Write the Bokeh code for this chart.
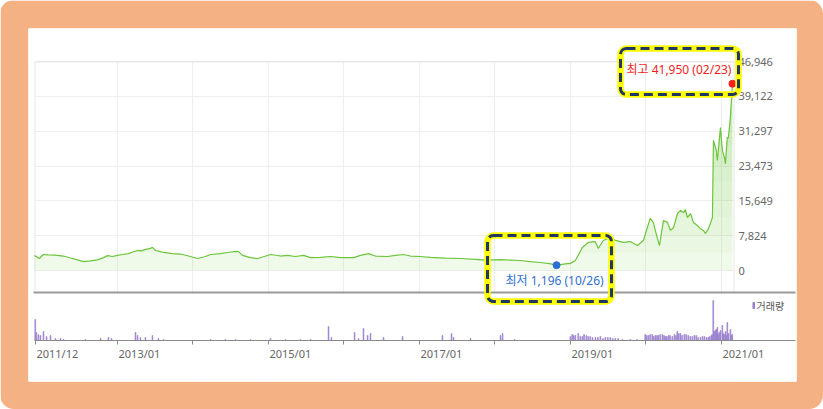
import pandas as pd
import numpy as np
from bokeh.plotting import figure
from bokeh.models import (Range1d, FixedTicker, NumeralTickFormatter, CustomJSTickFormatter,
                          BoxAnnotation, Legend, LegendItem, ColumnDataSource)
from bokeh.core.properties import value
from bokeh.embed import file_html
from bokeh.resources import INLINE

# ---------------- data ----------------
price_dates = [
    "2011-11-26", "2011-12-10", "2011-12-20", "2011-12-29", "2012-01-08", "2012-02-01", "2012-03-06",
    "2012-04-14", "2012-05-19", "2012-06-21", "2012-07-21", "2012-08-23", "2012-09-26", "2012-10-25",
    "2012-11-14", "2012-12-08", "2013-01-01", "2013-01-25", "2013-02-23", "2013-03-19", "2013-04-08",
    "2013-04-27", "2013-05-16", "2013-06-05", "2013-06-19", "2013-07-04", "2013-07-23", "2013-08-12",
    "2013-09-24", "2013-11-02", "2013-12-20", "2014-01-23", "2014-03-03", "2014-03-27", "2014-05-14",
    "2014-06-17", "2014-07-26", "2014-08-09", "2014-08-29", "2014-10-06", "2014-11-09", "2014-12-13",
    "2015-01-11", "2015-03-01", "2015-04-03", "2015-05-12", "2015-06-20", "2015-07-24", "2015-09-10",
    "2015-10-28", "2015-12-16", "2016-02-17", "2016-03-22", "2016-04-29", "2016-06-02", "2016-07-30",
    "2016-09-07", "2016-10-16", "2016-11-18", "2017-01-06", "2017-02-23", "2017-05-07", "2017-07-18",
    "2017-09-29", "2017-11-16", "2018-01-28", "2018-03-17", "2018-05-05", "2018-06-22", "2018-08-09",
    "2018-09-22", "2018-10-26", "2018-11-29", "2019-01-01", "2019-01-25", "2019-02-28", "2019-03-28",
    "2019-05-01", "2019-05-16", "2019-06-09", "2019-07-13", "2019-08-07", "2019-09-14", "2019-10-18",
    "2019-11-21", "2019-12-20", "2020-01-22", "2020-02-06", "2020-02-25", "2020-03-07", "2020-03-26",
    "2020-04-15", "2020-04-29", "2020-05-14", "2020-06-02", "2020-06-17", "2020-07-01", "2020-07-10",
    "2020-07-20", "2020-08-04", "2020-08-18", "2020-09-06", "2020-09-21", "2020-10-06", "2020-10-15",
    "2020-10-30", "2020-11-18", "2020-11-23", "2020-12-07", "2020-12-12", "2020-12-27", "2021-01-05",
    "2021-01-15", "2021-01-20", "2021-01-29", "2021-02-03", "2021-02-13", "2021-02-23",
]
price_values = [
    3370, 3000, 2700, 3150, 3600, 3500, 3450,
    3250, 2800, 2400, 2000, 2150, 2400, 2900,
    3350, 3150, 3400, 3600, 3800, 4200, 4500,
    4400, 4750, 4900, 5200, 4500, 4300, 4050,
    3800, 3700, 3150, 2700, 3150, 3600, 3800,
    4050, 4300, 4250, 3400, 2900, 2700, 3150,
    3600, 3250, 3400, 3150, 3400, 2900, 2950,
    3150, 2900, 2900, 3400, 3800, 3250, 3150,
    3400, 3600, 3250, 3150, 2950, 2800, 2700,
    2500, 2350, 2450, 2350, 2250, 2000, 1800,
    1550, 1196, 1450, 1600, 2250, 5150, 6300,
    6500, 4950, 6750, 7400, 6750, 6300, 6500,
    5600, 6750, 11700, 10800, 7400, 5600, 11200,
    10800, 9000, 9650, 12800, 13500, 13000, 13700,
    11900, 12800, 10800, 10100, 9400, 9000, 8300,
    9400, 11900, 29200, 27000, 24700, 32100, 27000,
    25400, 24000, 29900, 29700, 34400, 41950,
]

vol_dates = [
    "2011-11-30", "2011-12-05", "2011-12-15", "2011-12-25", "2012-01-09", "2012-01-24", "2012-02-12",
    "2012-03-07", "2012-03-31", "2012-04-15", "2012-07-30", "2012-10-11", "2012-11-18", "2012-12-03",
    "2013-03-29", "2013-04-08", "2013-04-22", "2013-05-16", "2013-06-19", "2013-07-18", "2013-08-12",
    "2014-03-27", "2014-06-07", "2014-07-26", "2014-10-06", "2015-01-11", "2015-03-25", "2015-06-05",
    "2015-07-24", "2015-10-19", "2015-11-02", "2016-02-22", "2016-03-12", "2016-04-05", "2016-04-25",
    "2016-05-09", "2016-07-11", "2016-10-11", "2017-04-22", "2017-06-05", "2017-06-15", "2017-09-05",
    "2018-01-28", "2018-02-07", "2018-04-06", "2019-01-01", "2019-01-10", "2019-01-25", "2019-02-08",
    "2019-02-28", "2019-03-19", "2019-04-07", "2019-05-02", "2019-05-26", "2019-06-19", "2019-07-13",
    "2019-08-06", "2019-10-18", "2019-12-29", "2020-01-13", "2020-02-01", "2020-02-16", "2020-03-01",
    "2020-03-21", "2020-04-04", "2020-04-19", "2020-05-08", "2020-06-01", "2020-06-16", "2020-07-05",
    "2020-07-24", "2020-08-13", "2020-09-01", "2020-09-21", "2020-10-10", "2020-10-29", "2020-11-13",
    "2020-11-22", "2020-12-02", "2020-12-12", "2020-12-21", "2021-01-05", "2021-01-14", "2021-01-29",
    "2021-02-13", "2021-02-22",
    "2019-01-17", "2019-02-18", "2019-03-08", "2019-03-28", "2019-04-18", "2019-05-14", "2019-06-07",
    "2019-07-01", "2019-07-25", "2019-08-20", "2019-09-10", "2019-11-20",
    "2020-01-05", "2020-01-22", "2020-02-08", "2020-02-24", "2020-03-10", "2020-03-29", "2020-04-11",
    "2020-04-27", "2020-05-18", "2020-05-26", "2020-06-08", "2020-06-24", "2020-07-14", "2020-08-03",
    "2020-08-23", "2020-09-10", "2020-10-01", "2020-10-20", "2020-11-05", "2020-11-17", "2020-11-27",
    "2020-12-07", "2020-12-16", "2020-12-27", "2021-01-09", "2021-01-20", "2021-01-25", "2021-02-04",
    "2021-02-18",
]
vol_values = [
    1050000, 400000, 300000, 250000, 450000, 200000, 250000,
    100000, 100000, 50000, 50000, 100000, 150000, 100000,
    400000, 250000, 150000, 150000, 250000, 100000, 50000,
    50000, 50000, 50000, 50000, 100000, 50000, 50000,
    50000, 700000, 150000, 400000, 100000, 600000, 250000,
    350000, 150000, 200000, 250000, 350000, 150000, 100000,
    250000, 350000, 50000, 200000, 300000, 250000, 350000,
    200000, 250000, 200000, 150000, 200000, 150000, 150000,
    100000, 50000, 300000, 250000, 300000, 250000, 250000,
    300000, 200000, 250000, 200000, 450000, 350000, 300000,
    250000, 200000, 250000, 150000, 200000, 150000, 250000,
    2000000, 500000, 650000, 400000, 750000, 300000, 900000,
    550000, 300000,
    250000, 200000, 300000, 200000, 150000, 150000, 100000,
    150000, 100000, 100000, 50000, 50000,
    250000, 300000, 200000, 250000, 300000, 250000, 200000,
    250000, 300000, 250000, 350000, 250000, 300000, 200000,
    250000, 150000, 200000, 150000, 200000, 300000, 450000,
    550000, 300000, 500000, 350000, 450000, 250000, 350000,
    250000,
]

price_ticks = [0, 7824, 15649, 23473, 31297, 39122, 46946]
x_label_dates = ["2011-12-01", "2013-01-01", "2015-01-01", "2017-01-01", "2019-01-01", "2021-01-01"]
x_labels = ["2011/12", "2013/01", "2015/01", "2017/01", "2019/01", "2021/01"]
x_minor_dates = ["2014-01-01", "2016-01-01", "2018-01-01", "2020-01-01"]
x_grid_dates = ["2013-01-01", "2014-01-01", "2015-01-01", "2016-01-01", "2017-01-01",
                "2018-01-01", "2019-01-01", "2020-01-01", "2021-01-01"]

high_date, high_value = "2021-02-23", 41950
low_date, low_value = "2018-10-26", 1196
high_label = "최고 41,950 (02/23)"
low_label = "최저 1,196 (10/26)"
volume_label = "거래량"

# ---------------- layout constants (pixels) ----------------
W, H = 823, 409
FL, FR, FT, FB = 28, 796, 28, 381           # white panel = plot frame
PANE_L, PANE_R, PANE_T, SEP_Y, AXIS_Y = 34, 734, 61, 292, 340
ZERO_Y = 270
ANCHOR_PX, ANCHOR_DATE = 117, pd.Timestamp("2013-01-01")
PX_PER_DAY = 604 / 2922
PRICE_PER_PX = price_ticks[-1] / (ZERO_Y - PANE_T)
VOL_PER_PX = 50000

def px_to_time(px):
    return ANCHOR_DATE + pd.Timedelta(days=(px - ANCHOR_PX) / PX_PER_DAY)

def ms(t):
    return (pd.Timestamp(t) - pd.Timestamp("1970-01-01")) / pd.Timedelta(milliseconds=1)

# ---------------- styling ----------------
GREEN = "#6cc63a"
FILL = "#86d95c"
PURPLE = "#9a7fcf"
ORANGE = "#F4B183"
NAVY = "#1F3864"
GRID = "#eeeeee"
TXT = "#666666"
NUM_FONT = "Noto Sans"
KR_FONT = "Noto Sans CJK KR"

p = figure(
    width=W, height=H, output_backend="svg", toolbar_location=None,
    x_axis_type="datetime", y_axis_location="right",
    x_range=Range1d(px_to_time(FL), px_to_time(FR)),
    y_range=Range1d(-(FB - ZERO_Y) * PRICE_PER_PX, (ZERO_Y - FT) * PRICE_PER_PX),
    min_border_left=FL, min_border_right=W - FR, min_border_top=FT, min_border_bottom=H - FB,
    border_fill_color=ORANGE, background_fill_color="white", outline_line_color=None,
)
p.styles = {"border-radius": "14px", "overflow": "hidden"}
p.extra_y_ranges = {"vol": Range1d(-(FB - AXIS_Y) * VOL_PER_PX, (AXIS_Y - FT) * VOL_PER_PX)}

def canvas_box(l, r, t, b, **kw):
    return BoxAnnotation(left=l, right=r, top=t, bottom=b, left_units="canvas", right_units="canvas",
                         top_units="canvas", bottom_units="canvas", **kw)

# grids
p.ygrid.grid_line_color = GRID
p.xgrid.grid_line_color = GRID
p.xgrid.ticker = FixedTicker(ticks=[ms(d) for d in x_grid_dates])

# keep grid lines inside the price pane
for (l, r, t, b) in [(FL, FR, FT, PANE_T - 0.5), (FL, PANE_L, FT, FB), (PANE_R, FR, FT, FB), (FL, FR, SEP_Y, FB)]:
    p.add_layout(canvas_box(l, r, t, b, fill_color="white", fill_alpha=1, line_color=None, level="underlay"))
p.add_layout(canvas_box(PANE_L + 0.5, PANE_R - 0.5, PANE_T + 0.5, SEP_Y, fill_alpha=0,
                        line_color="#e6e6e6", line_alpha=1, line_width=1, level="underlay"))

# price data
dates = pd.to_datetime(price_dates)
vals = np.array(price_values, dtype=float)
src = ColumnDataSource(dict(date=dates, price=vals))
p.varea(x="date", y1=0, y2="price", source=src, fill_color=FILL, fill_alpha=0.13)
for lvl in [4000, 7824, 12000, 15649, 20000, 23473, 28000, 31297, 36000]:
    p.varea(x=dates, y1=np.full(len(vals), float(lvl)), y2=np.maximum(vals, lvl),
            fill_color=FILL, fill_alpha=0.045)
p.line(x="date", y="price", source=src, line_color=GREEN, line_width=1.2)

# volume
vsrc = ColumnDataSource(dict(date=pd.to_datetime(vol_dates), vol=vol_values))
vbars = p.vbar(x="date", top="vol", bottom=0, width=4 * 86400000, source=vsrc, y_range_name="vol",
               fill_color=PURPLE, line_color=PURPLE, line_width=0.6)

# high / low markers and labels
p.scatter(x=[pd.Timestamp(high_date)], y=[high_value], size=7, fill_color="#ff1c1c", line_color="#ff1c1c")
p.scatter(x=[pd.Timestamp(low_date)], y=[low_value], size=7, fill_color="#2a6fd6", line_color="#2a6fd6")
p.text(x=[pd.Timestamp(high_date)], y=[high_value], text=[high_label],
       text_font=value(f"{NUM_FONT}, '{KR_FONT}'"), text_font_size=value("12px"), text_color="#f01e1e",
       text_align="right", text_baseline="middle", x_offset=-1, y_offset=-14)
p.text(x=[pd.Timestamp(low_date)], y=[low_value], text=[low_label],
       text_font=value(f"{NUM_FONT}, '{KR_FONT}'"), text_font_size=value("12px"), text_color="#2f6fd0",
       text_align="center", text_baseline="middle", x_offset=-2, y_offset=15)

# y axis (right of the price pane)
ya = p.yaxis[0]
ya.fixed_location = ms(px_to_time(PANE_R))
ya.ticker = FixedTicker(ticks=price_ticks)
ya.formatter = NumeralTickFormatter(format="0,0")
ya.axis_line_color = None
ya.major_tick_line_color = None
ya.minor_tick_line_color = None
ya.major_tick_in = 0
ya.major_tick_out = 0
ya.minor_tick_out = 0
ya.major_label_standoff = 4
ya.major_label_text_font = NUM_FONT
ya.major_label_text_font_size = "11px"
ya.major_label_text_color = TXT

# x axis (bottom of the volume pane), labels drawn left-aligned at the ticks
xa = p.xaxis[0]
xa.fixed_location = -(AXIS_Y - ZERO_Y) * PRICE_PER_PX
xa.bounds = (ms(px_to_time(PANE_L - 0.5)), ms(px_to_time(FR - 1)))
xa.ticker = FixedTicker(ticks=[ms(d) for d in x_label_dates], minor_ticks=[ms(d) for d in x_minor_dates])
xa.formatter = CustomJSTickFormatter(code="return ''")
xa.axis_line_color = "#8a8a8a"
xa.axis_line_width = 1.2
xa.major_tick_line_color = "#8a8a8a"
xa.minor_tick_line_color = "#8a8a8a"
xa.major_tick_in = 0
xa.major_tick_out = 4
xa.minor_tick_in = 0
xa.minor_tick_out = 4
p.text(x=pd.to_datetime(x_label_dates), y=[0] * len(x_labels), text=x_labels, y_range_name="vol",
       text_font=value(NUM_FONT), text_font_size=value("11px"), text_color=TXT,
       text_align="left", text_baseline="top", x_offset=1, y_offset=5)

# separator between price and volume panes
p.add_layout(canvas_box(PANE_L - 1, FR - 1, SEP_Y - 1, SEP_Y + 1, fill_color="#9a9a9a", fill_alpha=1,
                        line_color=None, level="annotation"))

# legend
legend = Legend(items=[LegendItem(label=volume_label, renderers=[vbars])],
                location=(751.5 - FL, FB - 312.5),
                glyph_width=3, glyph_height=8, label_standoff=2, padding=0, margin=0, spacing=0,
                label_height=14, background_fill_alpha=0, border_line_color=None,
                label_text_font=KR_FONT, label_text_font_size="10px", label_text_color="#555555")
p.add_layout(legend)

# highlight boxes
for (l, r, t, b) in [(620, 738, 48, 94), (487, 611, 235, 301)]:
    p.add_layout(canvas_box(l, r, t, b, fill_alpha=0, line_color="#FFFF00", line_alpha=1, line_width=6.5,
                            border_radius=6, level="overlay"))
    p.add_layout(canvas_box(l, r, t, b, fill_alpha=0, line_color=NAVY, line_alpha=1, line_width=3,
                            line_dash="9 5", border_radius=6, level="overlay"))

open("out.html", "w").write(file_html(p, INLINE))
